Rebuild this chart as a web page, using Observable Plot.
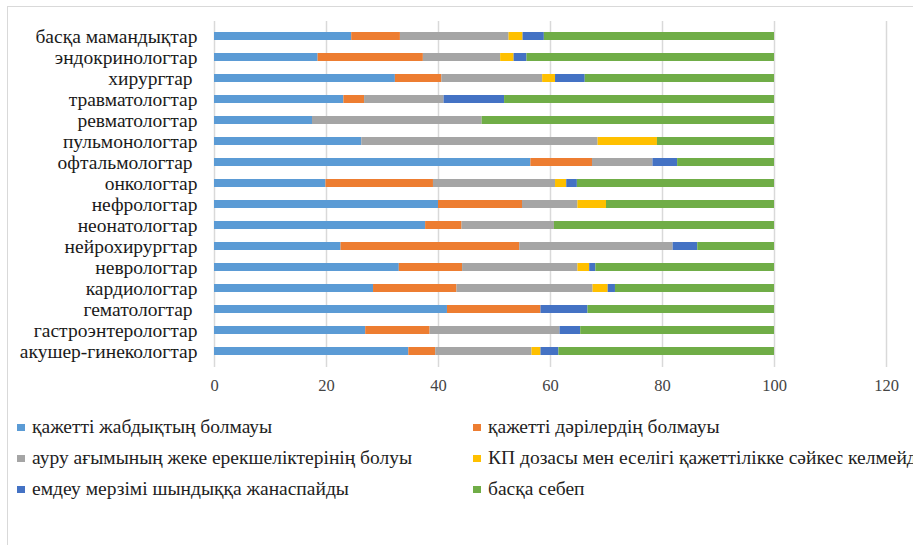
<!DOCTYPE html>
<html>
<head>
<meta charset="utf-8">
<script src="https://cdn.jsdelivr.net/npm/d3@7"></script>
<script src="https://cdn.jsdelivr.net/npm/@observablehq/plot@0.6"></script>
<style>
  body { margin: 0; padding: 0; background: #fff; }
</style>
</head>
<body>
<div id="wrap" style="position:relative;width:913px;height:545px;overflow:hidden;">
  <div id="frame" style="position:absolute;left:7px;top:6px;width:1000px;height:1000px;border:1.5px solid #D9D9D9;box-sizing:border-box;"></div>
  <div id="chart" style="position:absolute;left:0;top:0;"></div>
  <div id="legend" style="position:absolute;left:0;top:0;"></div>
</div>
<script>
// Categories (top to bottom)
const categories = [
  "басқа мамандықтар",
  "эндокринологтар",
  "хирургтар ",
  "травматологтар",
  "ревматологтар",
  "пульмонологтар",
  "офтальмологтар ",
  "онкологтар",
  "нефрологтар",
  "неонатологтар",
  "нейрохирургтар",
  "неврологтар",
  "кардиологтар",
  "гематологтар ",
  "гастроэнтерологтар",
  "акушер-гинекологтар"
];

const seriesNames = [
  "қажетті жабдықтың болмауы",
  "қажетті дәрілердің болмауы",
  "ауру ағымының жеке ерекшеліктерінің болуы",
  "КП дозасы мен еселігі қажеттілікке сәйкес келмейді",
  "емдеу мерзімі шындыққа жанаспайды",
  "басқа себеп"
];

const seriesColors = ["#5B9BD5", "#ED7D31", "#A5A5A5", "#FFC000", "#4472C4", "#70AD47"];

// Series values, in category order
const equipment  = [24.5, 18.5, 32.3, 23.1, 17.5, 26.3, 56.5, 19.9, 40.0, 37.7, 22.6, 33.0, 28.4, 41.6, 27.0, 34.7];
const medicines  = [ 8.7, 18.8,  8.3,  3.7,  0.0,  0.0, 11.0, 19.2, 15.0,  6.5, 31.9, 11.3, 14.9, 16.7, 11.5,  4.8];
const course     = [19.4, 13.8, 18.0, 14.2, 30.3, 42.2, 10.8, 21.8,  9.9, 16.5, 27.4, 20.6, 24.3,  0.0, 23.2, 17.2];
const dosage     = [ 2.5,  2.4,  2.3,  0.0,  0.0, 10.6,  0.0,  2.0,  5.1,  0.0,  0.0,  2.1,  2.7,  0.0,  0.0,  1.6];
const duration   = [ 3.8,  2.3,  5.3, 10.8,  0.0,  0.0,  4.4,  1.9,  0.0,  0.0,  4.4,  1.1,  1.3,  8.4,  3.7,  3.2];
const otherCause = [41.1, 44.2, 33.8, 48.2, 52.2, 20.9, 17.3, 35.2, 30.0, 39.3, 13.7, 31.9, 28.4, 33.3, 34.6, 38.5];

const xTicks = [0, 20, 40, 60, 80, 100, 120];

const FONT = "Liberation Serif";

const seriesValues = [equipment, medicines, course, dosage, duration, otherCause];
const rows = [];
categories.forEach((c, i) => {
  seriesValues.forEach((vals, s) => {
    rows.push({category: c, series: seriesNames[s], value: vals[i]});
  });
});

const chart = Plot.plot({
  width: 913,
  height: 400,
  marginLeft: 214,
  marginRight: 27,
  marginTop: 21,
  marginBottom: 33,
  style: {background: "transparent", overflow: "visible", fontFamily: FONT},
  x: {domain: [0, 120], ticks: xTicks, label: null},
  y: {domain: categories, label: null, paddingInner: 0.6, paddingOuter: 0.3},
  color: {domain: seriesNames, range: seriesColors},
  marks: [
    Plot.gridX(xTicks, {stroke: "#D9D9D9", strokeOpacity: 1, strokeWidth: 1.5}),
    Plot.barX(rows, Plot.stackX({
      y: "category",
      x: "value",
      fill: "series",
      order: seriesNames
    })),
    Plot.axisX({ticks: xTicks, tickSize: 0, tickPadding: 12, fontSize: 16.5, fontFamily: FONT, color: "#444"}),
    Plot.axisY({tickSize: 0, tickPadding: 17, fontSize: 19.5, fontFamily: FONT, color: "#1a1a1a"})
  ]
});
document.getElementById("chart").appendChild(chart);
chart.querySelectorAll("text").forEach(t => {
  t.setAttribute("font-family", FONT);
  t.style.whiteSpace = "pre";
});

// Legend
const legend = document.getElementById("legend");
const pos = [[17, 427], [473, 427], [17, 458], [473, 458], [17, 489], [473, 489]];
seriesNames.forEach((name, i) => {
  const d = document.createElement("div");
  d.setAttribute("style",
    "position:absolute;white-space:nowrap;display:flex;align-items:center;height:22px;" +
    "left:" + pos[i][0] + "px;top:" + (pos[i][1] - 11) + "px;" +
    "font-family:'" + FONT + "';font-size:19.5px;color:#222;");
  const sw = document.createElement("span");
  sw.setAttribute("style", "width:8px;height:7px;margin-right:7px;display:inline-block;background:" + seriesColors[i] + ";");
  const tx = document.createElement("span");
  tx.textContent = name;
  d.appendChild(sw);
  d.appendChild(tx);
  legend.appendChild(d);
});
</script>
</body>
</html>
